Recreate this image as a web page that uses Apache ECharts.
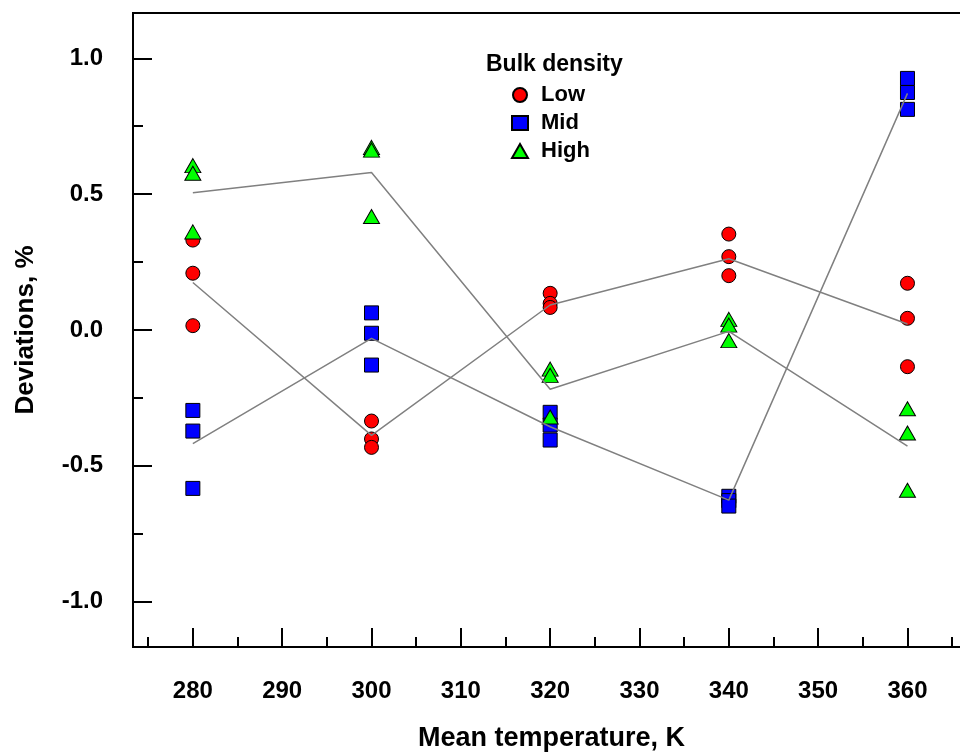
<!DOCTYPE html>
<html>
<head>
<meta charset="utf-8">
<title>Deviations vs mean temperature</title>
<script src="https://cdn.jsdelivr.net/npm/echarts@6/dist/echarts.min.js"></script>
<style>
  html, body { margin: 0; padding: 0; background: #ffffff; }
  #chart { width: 960px; height: 755px; }
</style>
</head>
<body>
<div id="chart"></div>
<script>
// Mean temperatures (K) at which the runs were made
const temperatures = [280, 300, 320, 340, 360];

// Individual run deviations (%), three runs per temperature
const lowDensityRuns = [
  [0.331, 0.209, 0.016],
  [-0.335, -0.401, -0.432],
  [0.135, 0.098, 0.083],
  [0.353, 0.270, 0.200],
  [0.172, 0.043, -0.135]
];
const midDensityRuns = [
  [-0.296, -0.372, -0.583],
  [0.063, -0.012, -0.129],
  [-0.303, -0.350, -0.405],
  [-0.612, -0.628, -0.648],
  [0.926, 0.874, 0.812]
];
const highDensityRuns = [
  [0.605, 0.577, 0.361],
  [0.672, 0.662, 0.418],
  [-0.144, -0.167, -0.320],
  [0.039, 0.018, -0.039],
  [-0.290, -0.379, -0.590]
];

// Average deviation per temperature for each bulk density
const lowDensityMean = [0.175, -0.388, 0.092, 0.262, 0.022];
const midDensityMean = [-0.418, -0.031, -0.356, -0.626, 0.871];
const highDensityMean = [0.505, 0.580, -0.218, -0.005, -0.427];

const seriesNames = ['Low', 'Mid', 'High'];
const legendTitle = 'Bulk density';
const xAxisTitle = 'Mean temperature, K';
const yAxisTitle = 'Deviations, %';

const FONT = '"Liberation Sans", Arial, Helvetica, sans-serif';

function runPoints(runs) {
  const pts = [];
  runs.forEach((vals, i) => vals.forEach(v => pts.push([temperatures[i], v])));
  return pts;
}
function meanPoints(means) {
  return means.map((v, i) => [temperatures[i], v]);
}

const chart = echarts.init(document.getElementById('chart'), null, { renderer: 'canvas' });

const markerBase = { borderColor: '#000000', borderWidth: 1, opacity: 1 };
const meanLineStyle = { color: '#808080', width: 1.5 };

const option = {
  backgroundColor: '#ffffff',
  animation: false,
  title: {
    text: legendTitle,
    left: 486,
    top: 53,
    padding: 0,
    textStyle: { fontFamily: FONT, fontSize: 23, fontWeight: 'bold', color: '#000000' }
  },
  legend: {
    data: seriesNames,
    orient: 'vertical',
    left: 511,
    top: 84,
    padding: 0,
    itemWidth: 16,
    itemHeight: 14,
    itemGap: 6,
    selectedMode: false,
    textStyle: {
      fontFamily: FONT, fontSize: 22, fontWeight: 'bold', color: '#000000',
      lineHeight: 22, padding: [0, 0, 0, 8]
    }
  },
  grid: {
    left: 133,
    top: 13,
    width: 837,
    height: 634,
    outerBoundsMode: 'none',
    containLabel: false,
    show: true,
    borderColor: '#000000',
    borderWidth: 2,
    backgroundColor: 'transparent'
  },
  xAxis: {
    type: 'value',
    min: 273.3,
    max: 367,
    splitNumber: 10,
    name: xAxisTitle,
    nameLocation: 'middle',
    nameGap: 78,
    nameTextStyle: { fontFamily: FONT, fontSize: 27, fontWeight: 'bold', color: '#000000' },
    axisLine: { onZero: false, lineStyle: { color: '#000000', width: 2 } },
    axisTick: { inside: true, length: 19, lineStyle: { color: '#000000', width: 2 } },
    minorTick: { show: true, splitNumber: 2, length: 10, lineStyle: { color: '#000000', width: 2 } },
    splitLine: { show: false },
    minorSplitLine: { show: false },
    axisLabel: {
      margin: 32,
      fontFamily: FONT,
      fontSize: 24,
      fontWeight: 'bold',
      color: '#000000',
      formatter: v => (Math.abs(v - Math.round(v / 10) * 10) < 1e-6 ? String(Math.round(v)) : '')
    }
  },
  yAxis: {
    type: 'value',
    min: -1.1667,
    max: 1.1667,
    splitNumber: 5,
    name: yAxisTitle,
    nameLocation: 'middle',
    nameGap: 94,
    nameRotate: 90,
    nameTextStyle: { fontFamily: FONT, fontSize: 26, fontWeight: 'bold', color: '#000000' },
    axisLine: { onZero: false, lineStyle: { color: '#000000', width: 2 } },
    axisTick: { inside: true, length: 19, lineStyle: { color: '#000000', width: 2 } },
    minorTick: { show: true, splitNumber: 2, length: 10, lineStyle: { color: '#000000', width: 2 } },
    splitLine: { show: false },
    minorSplitLine: { show: false },
    axisLabel: {
      margin: 30,
      fontFamily: FONT,
      fontSize: 24,
      fontWeight: 'bold',
      color: '#000000',
      formatter: v => (Math.abs(v * 2 - Math.round(v * 2)) < 1e-6 ? v.toFixed(1) : '')
    }
  },
  series: [
    {
      name: 'Low',
      type: 'scatter',
      symbol: 'circle',
      symbolSize: 14,
      z: 2,
      itemStyle: Object.assign({ color: '#ff0000' }, markerBase),
      data: runPoints(lowDensityRuns)
    },
    {
      name: 'Mid',
      type: 'scatter',
      symbol: 'rect',
      symbolSize: 14,
      z: 2,
      itemStyle: Object.assign({ color: '#0000ff' }, markerBase),
      data: runPoints(midDensityRuns)
    },
    {
      name: 'High',
      type: 'scatter',
      symbol: 'triangle',
      symbolSize: [16, 14],
      z: 2,
      itemStyle: Object.assign({ color: '#00ff00' }, markerBase),
      data: runPoints(highDensityRuns)
    },
    {
      name: 'Low mean',
      type: 'line',
      z: 3,
      symbol: 'none',
      silent: true,
      lineStyle: meanLineStyle,
      data: meanPoints(lowDensityMean)
    },
    {
      name: 'Mid mean',
      type: 'line',
      z: 3,
      symbol: 'none',
      silent: true,
      lineStyle: meanLineStyle,
      data: meanPoints(midDensityMean)
    },
    {
      name: 'High mean',
      type: 'line',
      z: 3,
      symbol: 'none',
      silent: true,
      lineStyle: meanLineStyle,
      data: meanPoints(highDensityMean)
    }
  ]
};

chart.setOption(option);
</script>
</body>
</html>
